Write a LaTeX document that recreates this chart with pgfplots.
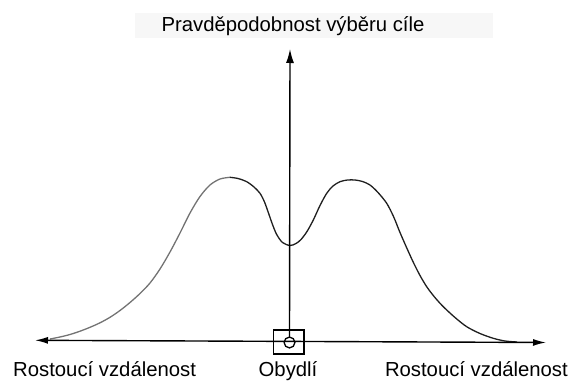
\documentclass[border=0pt]{standalone}
\usepackage{fontspec}
\setmainfont{Liberation Sans}
\usepackage{pgfplots}
\pgfplotsset{compat=1.18}
\usetikzlibrary{arrows.meta}
\begin{document}
\begin{tikzpicture}
\begin{axis}[
  width=572bp, height=381bp, scale only axis,
  xmin=0, xmax=572, ymin=0, ymax=381, y dir=reverse,
  hide axis, clip=false,
]
% invisible bounds
\path (axis cs:0,0) (axis cs:572,381);
% title background band
\fill[black!3] (axis cs:135,12.7) rectangle (axis cs:493,38);
\node[anchor=base, inner sep=0pt, font=\fontsize{20.3bp}{24bp}\selectfont] at (axis cs:293,31.7) {Pravděpodobnost výběru cíle};
% curve: left part (lighter)
\addplot[black!55, line width=1.3bp, smooth, tension=0.5] coordinates {
 (50,339) (60,337) (70,334.5) (80,331.2) (90,327.3) (100,322.8) (110,317.3) (120,310.5)
 (130,302.5) (140,293.5) (150,283) (160,269) (170,252) (180,233) (190,213) (200,196.5)
 (210,185) (220,179) (230,177.3)
};
% curve: right part
\addplot[black!88, line width=1.3bp, smooth, tension=0.5] coordinates {
 (230,177.3) (238,178.5) (246.7,181.7) (254,187) (260,193.3) (264.5,202) (268.3,212.5)
 (272.5,224.5) (276.7,234.5) (282.5,242.5) (290,245.5) (296,243.5) (301,239.5) (307,231.5)
 (313.3,220) (320,205.5) (326.7,193.3) (333,186) (340,181.7) (347.5,180) (355,180)
 (362.5,181.5) (370,185) (378,192.5) (386.7,203.3) (393.5,216.5) (400,232.5) (407,248.5)
 (413.3,262.3) (420,275.5) (426.7,286.7) (434.5,297) (443.3,306.7) (455,317.5) (466.7,326.7)
 (480,333.5) (493.3,338.3) (505,341) (517,342)
};
% axes
\draw[line width=1.4bp, {Latex[length=13bp,width=7bp]}-{Latex[length=13bp,width=7bp]}]
  (axis cs:35,340.3) -- (axis cs:546,342.5);
\draw[line width=1.4bp, -{Latex[length=14bp,width=8bp]}] (axis cs:289.5,337) -- (axis cs:290,49);
% dwelling symbol
\draw[line width=1.3bp] (axis cs:273.3,330) rectangle (axis cs:304,354);
\draw[line width=1.3bp] (axis cs:289.5,342.5) circle[radius=5.4bp];
% bottom labels
\node[anchor=base west, inner sep=0pt, font=\fontsize{20.3bp}{24bp}\selectfont] at (axis cs:13,376.5) {Rostoucí vzdálenost};
\node[anchor=base, inner sep=0pt, font=\fontsize{20.3bp}{24bp}\selectfont] at (axis cs:288,376.5) {Obydlí};
\node[anchor=base east, inner sep=0pt, font=\fontsize{20.3bp}{24bp}\selectfont] at (axis cs:568,376.5) {Rostoucí vzdálenost};
\end{axis}
\end{tikzpicture}
\end{document}
